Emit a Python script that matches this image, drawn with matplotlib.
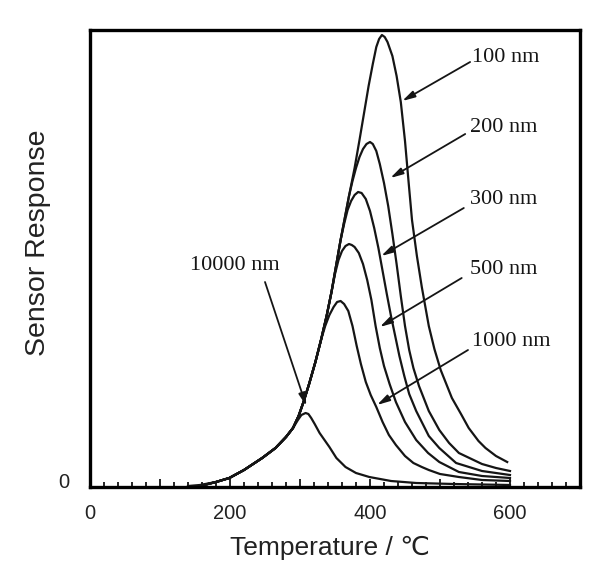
import matplotlib.pyplot as plt
from matplotlib.ticker import MultipleLocator
from matplotlib.transforms import ScaledTranslation

# shared rising edge of the 100-1000 nm curves (temperature in C, response in arb. units)
rise_T = [157, 180, 199, 220, 246, 265, 280, 290, 298, 305, 313, 322, 330, 338,
          345, 352, 358, 364, 370, 378, 385, 392, 398, 404, 409, 413, 417]
rise_h = [0, 4, 8, 16, 28, 38, 49, 58, 70, 84, 102, 124, 146, 170,
          194, 222, 246, 268, 290, 318, 346, 375, 400, 422, 439, 447, 451]

# own part of each curve, after it leaves the shared edge
fall_100_T = [421, 425, 432, 438, 444, 450, 455, 460, 467, 474, 484, 492, 501, 517,
              530, 541, 555, 565, 580, 596]
fall_100_h = [449, 444, 430, 410, 384, 345, 305, 266, 230, 199, 160, 137, 116, 88,
              72, 58, 45, 38, 30, 24]

fall_200_T = [375, 380, 385, 390, 395, 400, 404, 409, 414, 420, 426, 432, 438, 444,
              450, 456, 462, 470, 484, 499, 513, 527, 545, 560, 580, 600]
fall_200_h = [305, 318, 329, 337, 342, 344, 342, 335, 322, 303, 280, 252, 222, 190,
              160, 136, 118, 100, 75, 56, 43, 33, 27, 22, 18, 15]

fall_300_T = [363, 368, 373, 378, 383, 388, 394, 400, 406, 412, 418, 424, 430, 436,
              442, 449, 456, 466, 484, 499, 523, 560, 600]
fall_300_h = [262, 276, 285, 291, 294, 293, 287, 275, 258, 238, 215, 192, 170, 150,
              130, 110, 92, 75, 50, 38, 23, 15, 11]

fall_500_T = [350, 355, 360, 365, 370, 374, 378, 384, 390, 396, 402, 408, 414, 420,
              428, 437, 450, 466, 483, 499, 527, 560, 600]
fall_500_h = [212, 226, 235, 240, 242, 241, 239, 233, 222, 206, 186, 160, 138, 120,
              102, 84, 64, 46, 33, 24, 14, 10, 8]

fall_1000_T = [336, 342, 348, 353, 358, 363, 369, 375, 381, 387, 394, 401, 409, 418,
               427, 437, 450, 462, 474, 484, 500, 527, 560, 600]
fall_1000_h = [160, 171, 179, 184, 185, 182, 175, 160, 140, 122, 104, 91, 79, 64,
               51, 41, 30, 23, 19, 16, 12, 9, 6, 5]

curve_10000_T = [140, 157, 180, 199, 220, 246, 265, 280, 290, 297, 302, 308, 312, 316,
                 321, 328, 335, 342, 352, 365, 380, 399, 430, 466, 520, 600]
curve_10000_h = [0, 1, 4, 8, 16, 28, 38, 49, 58, 66, 71, 73, 72, 68,
                 62, 53, 46, 39, 28, 19, 13, 9, 5, 3, 2, 1]

labels = ['100 nm', '200 nm', '300 nm', '500 nm', '1000 nm']
leave_at = [417, 370, 358, 345, 330]   # last shared temperature
falls = [(fall_100_T, fall_100_h), (fall_200_T, fall_200_h), (fall_300_T, fall_300_h),
         (fall_500_T, fall_500_h), (fall_1000_T, fall_1000_h)]

fig = plt.figure(figsize=(6.13, 5.68), dpi=100)
ax = fig.add_axes([90 / 613, 1 - 487 / 568, 490 / 613, 457 / 568])

ink = '#151515'
for lab, t_end, (ft, fh) in zip(labels, leave_at, falls):
    k = rise_T.index(t_end) + 1
    ax.plot(rise_T[:k] + ft, rise_h[:k] + fh, color=ink, lw=1.6, solid_joinstyle='round')
ax.plot(curve_10000_T, curve_10000_h, color=ink, lw=1.6, solid_joinstyle='round')

# labels with arrows: text anchor, arrow start, arrow tip
text_pos = [(546, 429), (543, 358), (543, 286), (543, 216), (546, 144)]
arrow_from = [(543, 424), (536, 352), (534, 278), (531, 208), (540, 136)]
arrow_to = [(446, 385), (429, 308), (416, 230), (414, 159), (410, 81)]
arrow_style = dict(arrowstyle='-|>,head_length=0.75,head_width=0.2', color=ink,
                   lw=1.3, shrinkA=0, shrinkB=0)
for lab, tp, a0, a1 in zip(labels, text_pos, arrow_from, arrow_to):
    ax.text(tp[0], tp[1], lab, family='Liberation Serif', fontsize=16,
            ha='left', va='center', color=ink)
    ax.annotate('', xy=a1, xytext=a0, arrowprops=arrow_style)

ax.text(207, 221, '10000 nm', family='Liberation Serif', fontsize=16,
        ha='center', va='center', color=ink)
ax.annotate('', xy=(309, 80), xytext=(250, 204), arrowprops=arrow_style)

ax.set_xlim(0, 700)
ax.set_ylim(-1, 456)
for s in ax.spines.values():
    s.set_linewidth(2.4)
    s.set_color('black')

ax.set_xticks(range(0, 701, 100))
ax.set_xticklabels(['0', '', '200', '', '400', '', '600', ''])
ax.xaxis.set_minor_locator(MultipleLocator(20))
ax.tick_params(axis='x', which='major', direction='in', length=6, width=1.2,
               pad=12, labelsize=14.5, labelcolor='#222')
ax.tick_params(axis='x', which='minor', direction='in', length=3.5, width=1.2)
ax.set_yticks([0])
ax.tick_params(axis='y', length=0, pad=15, labelsize=14.5, labelcolor='#222')
for t in ax.get_xticklabels() + ax.get_yticklabels():
    t.set_family('Liberation Sans')
for t in ax.get_yticklabels():
    t.set_transform(t.get_transform() + ScaledTranslation(0, 0.06, fig.dpi_scale_trans))

fig.text(330 / 613, 1 - 548 / 568, 'Temperature / ℃', family=['Liberation Sans', 'DejaVu Sans'],
         fontsize=19, ha='center', va='center', color='#222')
fig.text(38 / 613, 1 - 243 / 568, 'Sensor Response', family='Liberation Sans',
         fontsize=20.5, rotation=90, ha='center', va='center', color='#222')

fig.savefig('out.png', dpi=100)
